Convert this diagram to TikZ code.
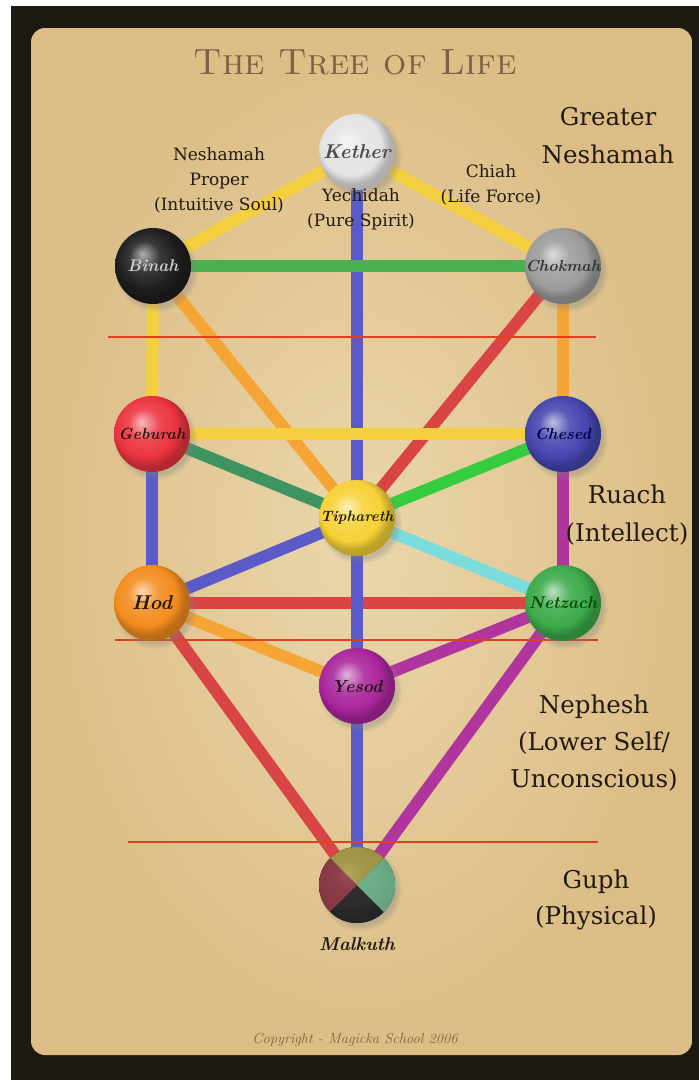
\documentclass[tikz,border=0pt]{standalone}
\usepackage{fontspec}
\usetikzlibrary{positioning,shadows}
\newfontfamily\labelfont{DejaVu Serif}
\definecolor{frameDark}{HTML}{1E1812}
\definecolor{parchLight}{HTML}{EBD7AB}
\definecolor{parchDark}{HTML}{DCBD86}
\definecolor{titleBrown}{HTML}{7A6242}
\definecolor{inkDark}{HTML}{231A12}
\definecolor{copyBrown}{HTML}{7E6438}
\definecolor{levelRed}{HTML}{E0401E}
\definecolor{barYellow}{HTML}{F4D040}
\definecolor{barGreen}{HTML}{4CAF50}
\definecolor{barBlue}{HTML}{5A5AC8}
\definecolor{barOrange}{HTML}{F5A436}
\definecolor{barRed}{HTML}{D94444}
\definecolor{barDarkGreen}{HTML}{3E9460}
\definecolor{barBrightGreen}{HTML}{36CC40}
\definecolor{barMagenta}{HTML}{B0369E}
\definecolor{barCyan}{HTML}{7ADCDC}
\definecolor{sephWhite}{HTML}{E4E4E4}
\definecolor{sephBlack}{HTML}{1E1E1E}
\definecolor{sephGray}{HTML}{9C9C9C}
\definecolor{sephRed}{HTML}{EC3440}
\definecolor{sephBlue}{HTML}{4646B0}
\definecolor{sephYellow}{HTML}{F6D236}
\definecolor{sephOrange}{HTML}{F48C1E}
\definecolor{sephGreen}{HTML}{3CAA4A}
\definecolor{sephMagenta}{HTML}{AA269C}
\definecolor{malkCitrine}{HTML}{A89A38}
\definecolor{malkOlive}{HTML}{66B888}
\definecolor{malkRusset}{HTML}{8C2634}
\definecolor{malkBlack}{HTML}{141414}
\makeatletter
\pgfdeclareradialshading[tikz@ball]{sephball}{\pgfqpoint{-7bp}{8bp}}{%
    color(0bp)=(tikz@ball!35!white);
    color(10bp)=(tikz@ball!88!white);
    color(20bp)=(tikz@ball);
    color(25bp)=(tikz@ball!78!black);
    color(50bp)=(tikz@ball!60!black)}
\makeatother
\pgfdeclarelayer{card}
\pgfdeclarelayer{bars}
\pgfsetlayers{card,bars,main}
\tikzset{
    sephirah/.style={circle,minimum size=76pt,inner sep=0pt,text=inkDark,
        ball color=#1,shading=sephball,
        font=\fontsize{16}{16}\selectfont\itshape\bfseries,
        circular drop shadow={shadow xshift=3pt,shadow yshift=-4pt,opacity=0.35}},
    pathbar/.style={line width=12pt},
    levelline/.style={draw=levelRed,line width=1.3pt},
    soullabel/.style={font=\labelfont\fontsize{17}{25}\selectfont,text=inkDark,align=center},
    planelabel/.style={font=\labelfont\fontsize{24.5}{38}\selectfont,text=inkDark,align=center}
}
\begin{document}
\begin{tikzpicture}[x=1pt,y=-1pt]
    \useasboundingbox (0,0) rectangle (699,1080);
    \begin{pgfonlayer}{card}
        \fill[white] (0,0) rectangle (699,1080);
        \fill[frameDark] (11,6) rectangle (699,1080);
        \shade[inner color=parchLight,outer color=parchDark,rounded corners=14pt] (31,28) rectangle (692,1055);
    \end{pgfonlayer}
    % sephiroth
    \node[sephirah=sephWhite,font=\fontsize{20}{20}\selectfont\itshape\bfseries,text=black!70] (kether) at (357,152) {Kether};
    \node[sephirah=sephBlack,font=\fontsize{17}{17}\selectfont\itshape\bfseries,text=black!20] (binah) at (153,266) {Binah};
    \node[sephirah=sephGray,text=black!80] (chokmah) at (563,266) {Chokmah};
    \node[sephirah=sephRed] (geburah) at (152,434) {Geburah};
    \node[sephirah=sephBlue,text=black!70!blue] (chesed) at (563,434) {Chesed};
    \node[sephirah=sephYellow,font=\fontsize{15}{15}\selectfont\itshape\bfseries] (tiphareth) at (357,518) {Tiphareth};
    \node[sephirah=sephOrange,font=\fontsize{20}{20}\selectfont\itshape\bfseries] (hod) at (152,603) {Hod};
    \node[sephirah=sephGreen,font=\fontsize{17}{17}\selectfont\itshape\bfseries,text=black!70!green] (netzach) at (563,603) {Netzach};
    \node[sephirah=sephMagenta,font=\fontsize{17.5}{17.5}\selectfont\itshape\bfseries] (yesod) at (357,686) {Yesod};
    \node[sephirah=malkBlack] (malkuth) at (357,885) {};
    \foreach \ang/\col in {45/malkCitrine,135/malkRusset,225/malkBlack,315/malkOlive} {
        \fill[\col] (malkuth.center) -- ++(\ang:38pt) arc[start angle=\ang,delta angle=90,radius=38pt] -- cycle;
    }
    \shade[ball color=gray,shading=sephball,opacity=0.22] (malkuth.center) circle[radius=38pt];
    \node[font=\fontsize{18.5}{18.5}\selectfont\itshape\bfseries,text=inkDark] (malkuthname) at (357,944) {Malkuth};
    % paths
    \begin{pgfonlayer}{bars}
        \foreach \a/\b/\c in {kether/binah/barYellow,kether/chokmah/barYellow,kether/tiphareth/barBlue,
            binah/chokmah/barGreen,binah/geburah/barYellow,chokmah/chesed/barOrange,
            binah/tiphareth/barOrange,chokmah/tiphareth/barRed,geburah/chesed/barYellow,
            geburah/tiphareth/barDarkGreen,chesed/tiphareth/barBrightGreen,geburah/hod/barBlue,
            chesed/netzach/barMagenta,tiphareth/hod/barBlue,tiphareth/netzach/barCyan,
            hod/netzach/barRed,tiphareth/yesod/barBlue,hod/yesod/barOrange,
            netzach/yesod/barMagenta,hod/malkuth/barRed,netzach/malkuth/barMagenta,
            yesod/malkuth/barBlue} {
            \draw[pathbar,draw=\c] (\a.center) -- (\b.center);
        }
        \coordinate (abyss-w) at (108,337);
        \coordinate (abyss-e) at (596,337);
        \coordinate (ruach-w) at (115,640);
        \coordinate (ruach-e) at (598,640);
        \coordinate (guph-w) at (128,842);
        \coordinate (guph-e) at (598,842);
        \draw[levelline] (abyss-w) -- (abyss-e);
        \draw[levelline] (ruach-w) -- (ruach-e);
        \draw[levelline] (guph-w) -- (guph-e);
    \end{pgfonlayer}
    % texts
    \node[font=\fontsize{36.5}{36.5}\selectfont\scshape,text=titleBrown] (title) at (355,62) {The Tree of Life};
    \node[soullabel] (neshamah) at (219,180) {Neshamah\\Proper\\(Intuitive Soul)};
    \node[soullabel] (yechidah) at (361,209) {Yechidah\\(Pure Spirit)};
    \node[soullabel] (chiah) at (491,185) {Chiah\\(Life Force)};
    \node[planelabel] (greater) at (608,136) {Greater\\Neshamah};
    \node[planelabel] (ruach) at (627,515) {Ruach\\(Intellect)};
    \node[planelabel,font=\labelfont\fontsize{24.5}{37}\selectfont] (nephesh) at (594,743) {Nephesh\\(Lower Self/\\Unconscious)};
    \node[planelabel,font=\labelfont\fontsize{24.5}{36}\selectfont] (guph) at (596,900) {Guph\\(Physical)};
    \node[font=\fontsize{14.5}{14.5}\selectfont\itshape,text=copyBrown] (copyright) at (355,1040) {Copyright - Magicka School 2006};
\end{tikzpicture}
\end{document}
